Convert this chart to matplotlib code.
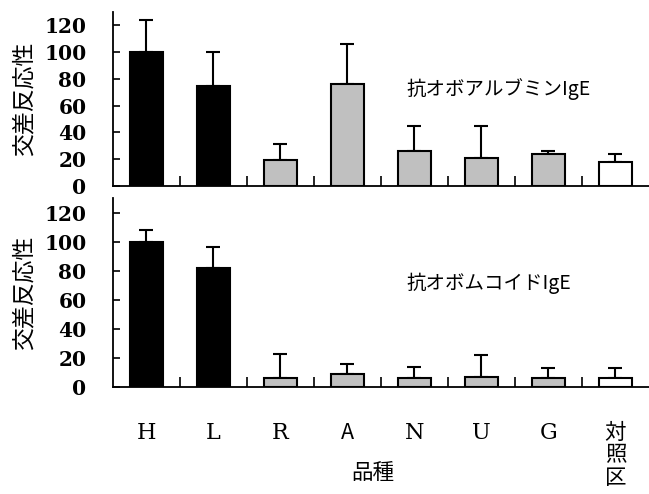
import matplotlib.pyplot as plt
from matplotlib.ticker import MultipleLocator

# categories (varieties)
cats = ["H", "L", "R", "A", "N", "U", "G", "対\n照\n区"]
colors = ["black", "black", "#c0c0c0", "#c0c0c0", "#c0c0c0", "#c0c0c0", "#c0c0c0", "white"]

# anti-ovalbumin IgE
ova_mean = [100, 75, 19.5, 76, 26.5, 21, 24, 18]
ova_err = [24, 25, 12, 30, 18, 23.5, 2.5, 6]

# anti-ovomucoid IgE
ovm_mean = [100, 82, 6, 9, 6, 7, 6, 6]
ovm_err = [8, 14, 16.5, 7, 8, 15, 7, 7]

titles = ["抗オボアルブミンIgE", "抗オボムコイドIgE"]

jp = ["Noto Sans CJK JP", "DejaVu Sans"]
serif = ["DejaVu Serif"]

fig = plt.figure(figsize=(6.49, 4.94), dpi=100)
ax1 = fig.add_axes([0.1741, 0.6235, 0.8259, 0.3522])
ax2 = fig.add_axes([0.1741, 0.2166, 0.8259, 0.3826])

x = list(range(len(cats)))
for ax, mean, err, title, ty in [(ax1, ova_mean, ova_err, titles[0], 0.56),
                                 (ax2, ovm_mean, ovm_err, titles[1], 0.55)]:
    ax.bar(x, mean, width=0.5, color=colors, edgecolor="black", linewidth=1.5, zorder=2)
    ax.errorbar(x, mean, yerr=[[0] * len(err), err], fmt="none", ecolor="black",
                elinewidth=1.5, capsize=4.7, capthick=1.5, zorder=1)
    ax.set_xlim(-0.5, 7.5)
    ax.set_ylim(0, 130)
    ax.yaxis.set_major_locator(MultipleLocator(20))
    for s in ["top", "right"]:
        ax.spines[s].set_visible(False)
    for s in ["left", "bottom"]:
        ax.spines[s].set_linewidth(1.3)
    ax.tick_params(axis="y", direction="in", length=5, width=1.2, pad=19)
    ax.set_xticks(x)
    ax.set_xticks([i + 0.5 for i in x[:-1]], minor=True)
    ax.tick_params(axis="x", which="major", length=0)
    ax.tick_params(axis="x", which="minor", direction="in", length=7, width=1.2)
    for lab in ax.get_yticklabels():
        lab.set_fontfamily(serif)
        lab.set_fontweight("bold")
        lab.set_fontsize(14.5)
    ax.set_ylabel("交差反応性", family=jp, fontsize=16.5, labelpad=2)
    ax.text(0.548, ty, title, transform=ax.transAxes, family=jp, fontsize=14,
            va="center", ha="left")

ax1.set_xticklabels([])
ax2.set_xticklabels(cats)
ax2.tick_params(axis="x", which="major", pad=25)
for lab in ax2.get_xticklabels():
    t = lab.get_text()
    if t == "A" or "対" in t:
        lab.set_fontfamily(jp)
        lab.set_fontsize(15.5)
    else:
        lab.set_fontfamily(serif)
        lab.set_fontsize(16)
    lab.set_linespacing(1.05)

ax1.yaxis.set_label_coords(-0.145, 0.5)
ax2.yaxis.set_label_coords(-0.145, 0.5)
fig.text(0.575, 0.043, "品種", family=jp, fontsize=15.5, ha="center", va="center")

fig.savefig("out.png", dpi=100)
